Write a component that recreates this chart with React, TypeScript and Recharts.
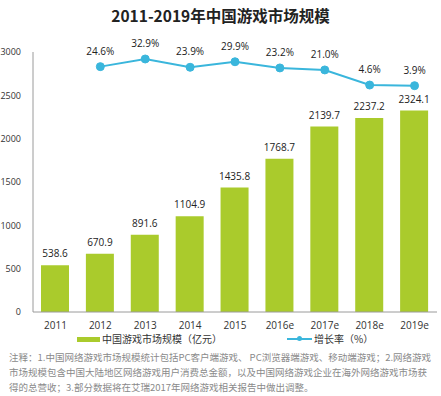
import { ComposedChart, Bar, Line, XAxis, YAxis, LabelList } from 'recharts'

const YEARS = ['2011', '2012', '2013', '2014', '2015', '2016e', '2017e', '2018e', '2019e']
const MARKET_SIZE = [538.6, 670.9, 891.6, 1104.9, 1435.8, 1768.7, 2139.7, 2237.2, 2324.1]
const GROWTH = [null, 24.6, 32.9, 23.9, 29.9, 23.2, 21.0, 4.6, 3.9]
const Y_TICKS = [0, 500, 1000, 1500, 2000, 2500, 3000]

const NOTE_LINES = [
  '注释：1.中国网络游戏市场规模统计包括PC客户端游戏、 PC浏览器端游戏、移动端游戏；2.网络游戏',
  '市场规模包含中国大陆地区网络游戏用户消费总金额，以及中国网络游戏企业在海外网络游戏市场获',
  '得的总营收；3.部分数据将在艾瑞2017年网络游戏相关报告中做出调整。',
]

const BAR_COLOR = '#aacb2c'
const LINE_COLOR = '#3ab6dc'
const FONT = "'Open Sans', 'Noto Sans CJK SC', sans-serif"
const CJK = "'Noto Sans CJK SC', sans-serif"

const data = YEARS.map((year, i) => ({ year, size: MARKET_SIZE[i], growth: GROWTH[i] }))

export default function App() {
  return (
    <div style={{
      position: 'fixed', left: 0, top: 0, width: 441, height: 396,
      overflow: 'hidden', background: '#fff', fontFamily: FONT,
    }}>
      <div style={{
        position: 'absolute', top: 4, left: 0, width: 441, textAlign: 'center',
        fontFamily: CJK, fontWeight: 700, fontSize: 15.5, color: '#222', lineHeight: '22px',
      }}>
        2011-2019年中国游戏市场规模
      </div>

      <div style={{ position: 'absolute', left: 0, top: 0 }}>
        <ComposedChart width={441} height={334} data={data} margin={{ top: 52, right: 4, left: 0, bottom: 0 }}>
          <XAxis
            dataKey="year"
            height={22}
            axisLine={{ stroke: '#9a9a9a' }}
            tickLine={false}
            tickMargin={4}
            tick={{ fill: '#333', fontSize: 10, fontFamily: FONT }}
            interval={0}
          />
          <YAxis
            yAxisId="left"
            width={33}
            domain={[0, 3000]}
            ticks={Y_TICKS}
            axisLine={{ stroke: '#9a9a9a' }}
            tickLine={false}
            tickSize={6}
            tickMargin={6}
            tick={{ fill: '#333', fontSize: 9, fontFamily: FONT }}
          />
          <YAxis yAxisId="right" orientation="right" hide domain={[-242, 40.5]} />
          <Bar yAxisId="left" dataKey="size" fill={BAR_COLOR} barSize={28} isAnimationActive={false}>
            <LabelList
              dataKey="size"
              position="top"
              offset={8}
              formatter={(v: number) => v.toFixed(1)}
              style={{ fill: '#222', fontSize: 10, fontFamily: FONT }}
            />
          </Bar>
          <Line
            yAxisId="right"
            dataKey="growth"
            stroke={LINE_COLOR}
            strokeWidth={2}
            dot={{ r: 4, fill: LINE_COLOR, stroke: LINE_COLOR, strokeWidth: 1 }}
            isAnimationActive={false}
          >
            <LabelList
              dataKey="growth"
              position="top"
              offset={12}
              formatter={(v: number | null) => (v == null ? '' : `${v.toFixed(1)}%`)}
              style={{ fill: '#222', fontSize: 10, fontFamily: FONT }}
            />
          </Line>
        </ComposedChart>
      </div>

      <div style={{
        position: 'absolute', top: 332, left: 0, width: 441, height: 14,
        fontFamily: CJK, fontSize: 10, color: '#333', lineHeight: '14px',
      }}>
        <span style={{ position: 'absolute', left: 77, top: 5, width: 23, height: 5, background: BAR_COLOR }} />
        <span style={{ position: 'absolute', left: 102, top: 0, whiteSpace: 'nowrap' }}>中国游戏市场规模（亿元）</span>
        <span style={{ position: 'absolute', left: 287, top: 6, width: 25, height: 2, background: LINE_COLOR }} />
        <span style={{
          position: 'absolute', left: 297, top: 4, width: 5, height: 5,
          borderRadius: 3, background: LINE_COLOR,
        }} />
        <span style={{ position: 'absolute', left: 314, top: 0, whiteSpace: 'nowrap' }}>增长率（%）</span>
      </div>

      <div style={{
        position: 'absolute', top: 350, left: 9, width: 432,
        fontFamily: CJK, fontSize: 9.5, color: '#8a8a8a', lineHeight: '15px',
      }}>
        {NOTE_LINES.map((t, i) => (
          <div key={i} style={{ whiteSpace: 'nowrap' }}>{t}</div>
        ))}
      </div>
    </div>
  )
}
